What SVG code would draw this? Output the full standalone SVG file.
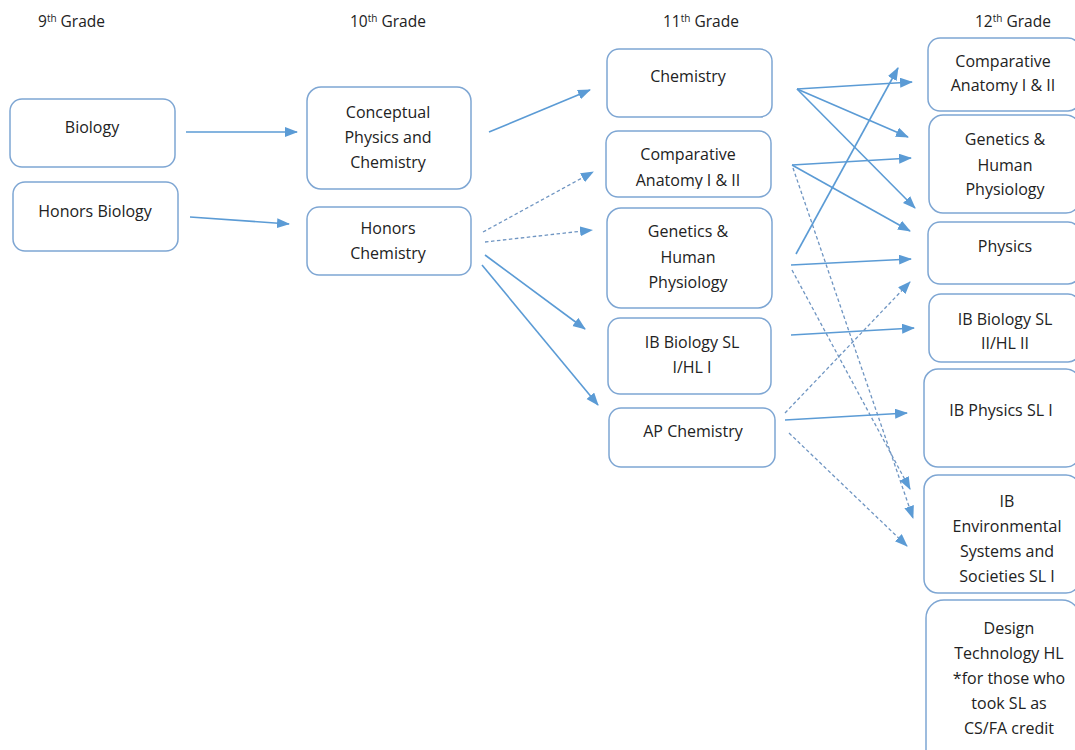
<svg xmlns="http://www.w3.org/2000/svg" width="1075" height="750" viewBox="0 0 1075 750">
<style>
.box{fill:#fff;stroke:#7ea6d3;stroke-width:1.5}
.t{font-family:"Open Sans","Liberation Sans",sans-serif;font-size:16px;fill:#222;text-anchor:middle}
.h{font-family:"Open Sans","Liberation Sans",sans-serif;font-size:15.5px;fill:#222}
.sup{font-size:10px}
.s{stroke:#5b9bd5;stroke-width:1.6;fill:none;marker-end:url(#a)}
.d{stroke:#6f95c2;stroke-width:1.3;fill:none;stroke-dasharray:3.5 2.5;marker-end:url(#a)}
</style>
<defs>
<marker id="a" markerUnits="userSpaceOnUse" markerWidth="14" markerHeight="12" refX="12" refY="5" orient="auto">
<path d="M0,0 L13,5 L0,10 z" fill="#5b9bd5"/>
</marker>
<clipPath id="cl1"><rect x="606" y="131" width="166" height="58"/></clipPath>
</defs>
<rect width="1075" height="750" fill="#fff"/>
<g id="headers">
<text class="h" x="38" y="27">9<tspan class="sup" dy="-5">th</tspan><tspan dy="5"> Grade</tspan></text>
<text class="h" x="350" y="27">10<tspan class="sup" dy="-5">th</tspan><tspan dy="5"> Grade</tspan></text>
<text class="h" x="663" y="27">11<tspan class="sup" dy="-5">th</tspan><tspan dy="5"> Grade</tspan></text>
<text class="h" x="975" y="27">12<tspan class="sup" dy="-5">th</tspan><tspan dy="5"> Grade</tspan></text>
</g>
<g id="connectors">
<line class="s" x1="186" y1="132" x2="297" y2="132"/>
<line class="s" x1="190" y1="217" x2="289" y2="224"/>
<line class="s" x1="489" y1="132" x2="590" y2="90"/>
<line class="d" x1="483" y1="232" x2="593" y2="172"/>
<line class="d" x1="485" y1="242" x2="592" y2="230"/>
<line class="s" x1="485" y1="255" x2="585" y2="329"/>
<line class="s" x1="482" y1="265" x2="598" y2="405"/>
<line class="s" x1="797" y1="89" x2="912" y2="82"/>
<line class="s" x1="797" y1="89" x2="908" y2="137"/>
<line class="s" x1="797" y1="89" x2="915" y2="208"/>
<line class="s" x1="792" y1="165" x2="911" y2="158"/>
<line class="s" x1="792" y1="165" x2="910" y2="231"/>
<line class="d" x1="793" y1="168" x2="913" y2="518"/>
<line class="s" x1="796" y1="254" x2="898" y2="68"/>
<line class="s" x1="791" y1="265" x2="911" y2="259"/>
<line class="d" x1="792" y1="270" x2="910" y2="489"/>
<line class="s" x1="791" y1="335" x2="914" y2="328"/>
<line class="d" x1="785" y1="413" x2="910" y2="282"/>
<line class="s" x1="785" y1="420" x2="907" y2="413"/>
<line class="d" x1="789" y1="433" x2="907" y2="546"/>
</g>
<g id="biology"><rect class="box" x="10" y="99" width="165" height="68" rx="12"/><text class="t" x="92" y="133">Biology</text></g>
<g id="honors-biology"><rect class="box" x="13" y="182" width="165" height="69" rx="12"/><text class="t" x="95" y="217">Honors Biology</text></g>
<g id="conceptual"><rect class="box" x="307" y="87" width="164" height="102" rx="14"/><text class="t" x="388" y="118">Conceptual</text><text class="t" x="388" y="143">Physics and</text><text class="t" x="388" y="168">Chemistry</text></g>
<g id="honors-chemistry"><rect class="box" x="307" y="207" width="164" height="68" rx="12"/><text class="t" x="388" y="234">Honors</text><text class="t" x="388" y="259">Chemistry</text></g>
<g id="chemistry11"><rect class="box" x="607" y="49" width="165" height="68" rx="12"/><text class="t" x="688" y="82">Chemistry</text></g>
<g id="comp-anatomy11"><rect class="box" x="606" y="131" width="165" height="66" rx="12"/><g clip-path="url(#cl1)"><text class="t" x="688" y="160">Comparative</text><text class="t" x="688" y="186">Anatomy I &amp; II</text></g></g>
<g id="genetics11"><rect class="box" x="607" y="208" width="165" height="100" rx="14"/><text class="t" x="688" y="237">Genetics &amp;</text><text class="t" x="688" y="263">Human</text><text class="t" x="688" y="288">Physiology</text></g>
<g id="ib-bio11"><rect class="box" x="608" y="318" width="163" height="76" rx="12"/><text class="t" x="692" y="348">IB Biology SL</text><text class="t" x="692" y="373">I/HL I</text></g>
<g id="ap-chem11"><rect class="box" x="609" y="408" width="166" height="59" rx="12"/><text class="t" x="693" y="437">AP Chemistry</text></g>
<g id="comp-anatomy12"><rect class="box" x="928" y="38" width="152" height="73" rx="12"/><text class="t" x="1003" y="67">Comparative</text><text class="t" x="1003" y="91">Anatomy I &amp; II</text></g>
<g id="genetics12"><rect class="box" x="929" y="115" width="151" height="98" rx="14"/><text class="t" x="1005" y="145">Genetics &amp;</text><text class="t" x="1005" y="171">Human</text><text class="t" x="1005" y="195">Physiology</text></g>
<g id="physics12"><rect class="box" x="928" y="222" width="152" height="62" rx="12"/><text class="t" x="1005" y="252">Physics</text></g>
<g id="ib-bio12"><rect class="box" x="929" y="294" width="151" height="68" rx="12"/><text class="t" x="1005" y="325">IB Biology SL</text><text class="t" x="1005" y="349">II/HL II</text></g>
<g id="ib-physics12"><rect class="box" x="924" y="369" width="156" height="98" rx="14"/><text class="t" x="1001" y="416">IB Physics SL I</text></g>
<g id="ib-env12"><rect class="box" x="924" y="475" width="156" height="118" rx="14"/><text class="t" x="1007" y="507">IB</text><text class="t" x="1007" y="532">Environmental</text><text class="t" x="1007" y="557">Systems and</text><text class="t" x="1007" y="582">Societies SL I</text></g>
<g id="design-tech12"><rect class="box" x="926" y="600" width="154" height="170" rx="18"/><text class="t" x="1009" y="634">Design</text><text class="t" x="1009" y="659">Technology HL</text><text class="t" x="1009" y="684">*for those who</text><text class="t" x="1009" y="709">took SL as</text><text class="t" x="1009" y="734">CS/FA credit</text></g>
</svg>
